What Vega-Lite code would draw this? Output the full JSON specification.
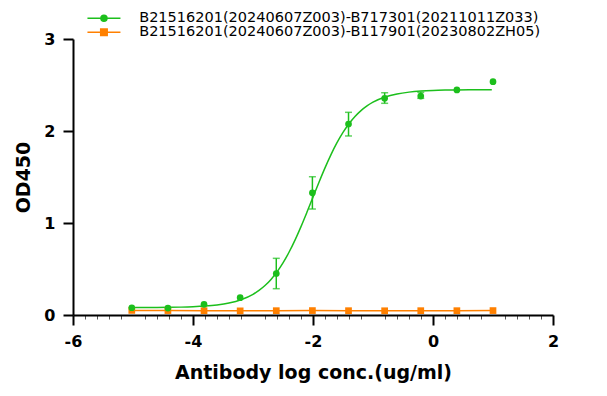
{
  "$schema": "https://vega.github.io/schema/vega-lite/v6.json",
  "autosize": "none",
  "width": 480,
  "height": 276,
  "padding": {"left": 73, "top": 39, "right": 54, "bottom": 81},
  "background": "white",
  "config": {
    "view": {"stroke": null},
    "font": "DejaVu Sans",
    "axis": {
      "grid": false,
      "domainColor": "black",
      "domainWidth": 2,
      "tickColor": "black",
      "tickWidth": 2,
      "tickSize": 10,
      "labelFont": "DejaVu Sans",
      "labelFontWeight": "bold",
      "labelFontSize": 16,
      "labelColor": "black",
      "titleFont": "DejaVu Sans",
      "titleFontWeight": "bold",
      "titleFontSize": 19,
      "titleColor": "black"
    }
  },
  "datasets": {
    "pts": [
      {"x": -5.020, "od": 0.079, "lo": null, "hi": null, "series": "B21516201(20240607Z003)-B717301(20211011Z033)"},
      {"x": -4.418, "od": 0.075, "lo": null, "hi": null, "series": "B21516201(20240607Z003)-B717301(20211011Z033)"},
      {"x": -3.816, "od": 0.116, "lo": null, "hi": null, "series": "B21516201(20240607Z003)-B717301(20211011Z033)"},
      {"x": -3.214, "od": 0.188, "lo": null, "hi": null, "series": "B21516201(20240607Z003)-B717301(20211011Z033)"},
      {"x": -2.612, "od": 0.451, "lo": 0.286, "hi": 0.616, "series": "B21516201(20240607Z003)-B717301(20211011Z033)"},
      {"x": -2.010, "od": 1.329, "lo": 1.152, "hi": 1.503, "series": "B21516201(20240607Z003)-B717301(20211011Z033)"},
      {"x": -1.408, "od": 2.076, "lo": 1.946, "hi": 2.203, "series": "B21516201(20240607Z003)-B717301(20211011Z033)"},
      {"x": -0.806, "od": 2.355, "lo": 2.301, "hi": 2.416, "series": "B21516201(20240607Z003)-B717301(20211011Z033)"},
      {"x": -0.204, "od": 2.380, "lo": 2.355, "hi": 2.420, "series": "B21516201(20240607Z003)-B717301(20211011Z033)"},
      {"x": 0.398, "od": 2.446, "lo": null, "hi": null, "series": "B21516201(20240607Z003)-B717301(20211011Z033)"},
      {"x": 1.000, "od": 2.536, "lo": null, "hi": null, "series": "B21516201(20240607Z003)-B717301(20211011Z033)"},
      {"x": -5.020, "od": 0.050, "lo": null, "hi": null, "series": "B21516201(20240607Z003)-B117901(20230802ZH05)"},
      {"x": -4.418, "od": 0.048, "lo": null, "hi": null, "series": "B21516201(20240607Z003)-B117901(20230802ZH05)"},
      {"x": -3.816, "od": 0.047, "lo": null, "hi": null, "series": "B21516201(20240607Z003)-B117901(20230802ZH05)"},
      {"x": -3.214, "od": 0.045, "lo": null, "hi": null, "series": "B21516201(20240607Z003)-B117901(20230802ZH05)"},
      {"x": -2.612, "od": 0.047, "lo": null, "hi": null, "series": "B21516201(20240607Z003)-B117901(20230802ZH05)"},
      {"x": -2.010, "od": 0.048, "lo": null, "hi": null, "series": "B21516201(20240607Z003)-B117901(20230802ZH05)"},
      {"x": -1.408, "od": 0.047, "lo": null, "hi": null, "series": "B21516201(20240607Z003)-B117901(20230802ZH05)"},
      {"x": -0.806, "od": 0.046, "lo": null, "hi": null, "series": "B21516201(20240607Z003)-B117901(20230802ZH05)"},
      {"x": -0.204, "od": 0.047, "lo": null, "hi": null, "series": "B21516201(20240607Z003)-B117901(20230802ZH05)"},
      {"x": 0.398, "od": 0.047, "lo": null, "hi": null, "series": "B21516201(20240607Z003)-B117901(20230802ZH05)"},
      {"x": 1.000, "od": 0.048, "lo": null, "hi": null, "series": "B21516201(20240607Z003)-B117901(20230802ZH05)"}
    ],
    "curve": [
      {"x": -5.02, "od": 0.0806}, {"x": -4.8, "od": 0.0811}, {"x": -4.6, "od": 0.0818},
      {"x": -4.4, "od": 0.0832}, {"x": -4.2, "od": 0.0856}, {"x": -4.0, "od": 0.0897},
      {"x": -3.8, "od": 0.0967}, {"x": -3.6, "od": 0.1089}, {"x": -3.4, "od": 0.1298},
      {"x": -3.2, "od": 0.1653}, {"x": -3.0, "od": 0.2243}, {"x": -2.9, "od": 0.2668},
      {"x": -2.8, "od": 0.3201}, {"x": -2.7, "od": 0.3866}, {"x": -2.6, "od": 0.4682},
      {"x": -2.5, "od": 0.5664}, {"x": -2.4, "od": 0.6818}, {"x": -2.3, "od": 0.8142},
      {"x": -2.2, "od": 0.9610}, {"x": -2.1, "od": 1.1186}, {"x": -2.0, "od": 1.2814},
      {"x": -1.9, "od": 1.4437}, {"x": -1.8, "od": 1.5994}, {"x": -1.7, "od": 1.7436},
      {"x": -1.6, "od": 1.8726}, {"x": -1.5, "od": 1.9846}, {"x": -1.4, "od": 2.0794},
      {"x": -1.3, "od": 2.1579}, {"x": -1.2, "od": 2.2215}, {"x": -1.1, "od": 2.2726},
      {"x": -1.0, "od": 2.3129}, {"x": -0.8, "od": 2.3691}, {"x": -0.6, "od": 2.4028},
      {"x": -0.4, "od": 2.4226}, {"x": -0.2, "od": 2.4342}, {"x": 0.0, "od": 2.4409},
      {"x": 0.2, "od": 2.4447}, {"x": 0.4, "od": 2.4470}, {"x": 0.6, "od": 2.4483},
      {"x": 0.8, "od": 2.4490}, {"x": 0.98, "od": 2.4494}
    ]
  },
  "resolve": {"axis": {"x": "independent", "y": "independent"}},
  "layer": [
    {
      "data": {"name": "pts"},
      "transform": [{"filter": "indexof(datum.series, 'B117901') >= 0"}],
      "mark": {"type": "line", "opacity": 0},
      "encoding": {
        "x": {"field": "x", "type": "quantitative", "scale": {"domain": [-6, 2], "nice": false, "zero": false},
          "axis": {"orient": "bottom", "values": [-5.8,-5.6,-5.4,-5.2,-4.8,-4.6,-4.4,-4.2,-3.8,-3.6,-3.4,-3.2,-2.8,-2.6,-2.4,-2.2,-1.8,-1.6,-1.4,-1.2,-0.8,-0.6,-0.4,-0.2,0.2,0.4,0.6,0.8,1.2,1.4,1.6,1.8],
            "labels": false, "domain": false, "tickSize": 4, "tickWidth": 1, "tickColor": "#555555", "title": null}},
        "y": {"field": "od", "type": "quantitative", "scale": {"domain": [0, 3], "nice": false}, "axis": null}
      }
    },
    {
      "layer": [
        {
          "data": {"name": "curve"},
          "mark": {"type": "line", "color": "#1cbf1c", "strokeWidth": 1.5, "interpolate": "monotone"},
          "encoding": {
            "x": {"field": "x", "type": "quantitative", "title": "Antibody log conc.(ug/ml)", "scale": {"domain": [-6, 2], "nice": false, "zero": false},
              "axis": {"orient": "bottom", "values": [-6, -4, -2, 0, 2], "labelExpr": "'' + datum.value", "labelPadding": 8, "titlePadding": 14, "labelFlush": false}},
            "y": {"field": "od", "type": "quantitative", "title": "OD450", "scale": {"domain": [0, 3], "nice": false},
              "axis": {"orient": "left", "values": [0, 1, 2, 3], "labelExpr": "'' + datum.value", "labelPadding": 8, "titlePadding": 10}}
          }
        },
        {
          "data": {"name": "pts"},
          "transform": [{"filter": "datum.lo != null"}],
          "mark": {"type": "errorbar", "color": "#1cbf1c", "ticks": {"size": 7, "thickness": 1.5}, "rule": {"strokeWidth": 1.5}},
          "encoding": {
            "x": {"field": "x", "type": "quantitative", "title": "Antibody log conc.(ug/ml)"},
            "y": {"field": "lo", "type": "quantitative", "title": "OD450"},
            "y2": {"field": "hi"}
          }
        },
        {
          "data": {"name": "pts"},
          "transform": [{"filter": "indexof(datum.series, 'B117901') >= 0"}],
          "mark": {"type": "line", "color": "#ff8000", "strokeWidth": 1.5},
          "encoding": {
            "x": {"field": "x", "type": "quantitative", "title": "Antibody log conc.(ug/ml)"},
            "y": {"field": "od", "type": "quantitative", "title": "OD450"}
          }
        },
        {
          "data": {"name": "pts"},
          "transform": [{"filter": "indexof(datum.series, 'B117901') >= 0"}],
          "mark": {"type": "point", "shape": "square", "filled": true, "opacity": 1, "size": 45, "color": "#ff8000"},
          "encoding": {
            "x": {"field": "x", "type": "quantitative", "title": "Antibody log conc.(ug/ml)"},
            "y": {"field": "od", "type": "quantitative", "title": "OD450"}
          }
        },
        {
          "data": {"name": "pts"},
          "transform": [{"filter": "indexof(datum.series, 'B717301') >= 0"}],
          "mark": {"type": "point", "shape": "circle", "filled": true, "opacity": 1, "size": 45, "color": "#1cbf1c"},
          "encoding": {
            "x": {"field": "x", "type": "quantitative", "title": "Antibody log conc.(ug/ml)"},
            "y": {"field": "od", "type": "quantitative", "title": "OD450"}
          }
        },
        {
          "data": {"name": "pts"},
          "mark": {"type": "point", "filled": true, "opacity": 0, "size": 45},
          "encoding": {
            "x": {"field": "x", "type": "quantitative", "title": "Antibody log conc.(ug/ml)"},
            "y": {"field": "od", "type": "quantitative", "title": "OD450"},
            "color": {"field": "series", "type": "nominal",
              "scale": {"domain": ["B21516201(20240607Z003)-B717301(20211011Z033)", "B21516201(20240607Z003)-B117901(20230802ZH05)"], "range": ["#1cbf1c", "#ff8000"]},
              "legend": {
                "orient": "none", "legendX": 23.7, "legendY": -28, "title": null, "padding": 0,
                "symbolSize": 100, "labelOffset": 28, "rowPadding": -1,
                "labelFont": "DejaVu Sans", "labelFontSize": 14.5, "labelColor": "black", "labelLimit": 700,
                "encode": {
                  "symbols": {
                    "update": {
                      "shape": {"signal": "indexof(datum.value, 'B717301') >= 0 ? 'M-3.3,0H3.3M-0.6,0A0.6,0.6,0,1,0,0.6,0A0.6,0.6,0,1,0,-0.6,0Z' : 'M-3.3,0H3.3M-0.65,-0.65H0.65V0.65H-0.65Z'"},
                      "fill": {"signal": "indexof(datum.value, 'B717301') >= 0 ? '#1cbf1c' : '#ff8000'"},
                      "stroke": {"signal": "indexof(datum.value, 'B717301') >= 0 ? '#1cbf1c' : '#ff8000'"},
                      "strokeWidth": {"value": 1.5},
                      "opacity": {"value": 1}
                    }
                  }
                }
              }}
          }
        }
      ]
    }
  ]
}
